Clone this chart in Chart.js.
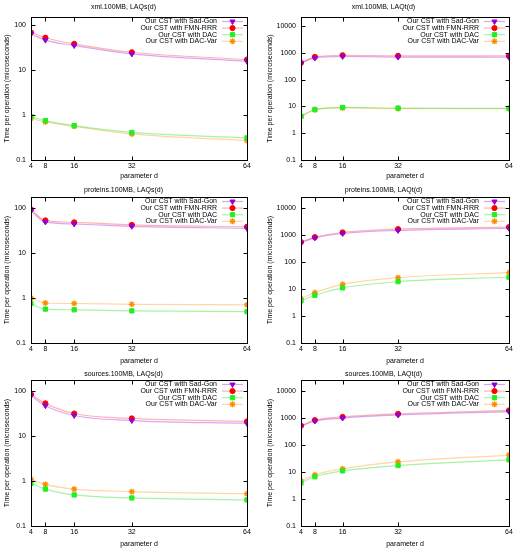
<!DOCTYPE html>
<html>
<head>
<meta charset="utf-8">
<script src="https://cdn.jsdelivr.net/npm/chart.js@4.4.0/dist/chart.umd.min.js"></script>
<style>
  body { margin: 0; background: #fff; }
  #wrap { position: relative; width: 518px; height: 550px; overflow: hidden; }
  canvas { position: absolute; }
</style>
</head>
<body>
<div id="wrap"></div>
<script>
// parameter d on the x axis
const dValues = [4, 8, 16, 32, 64];
const xTicks = [4, 8, 16, 32, 64];
const yTicksS = [0.1, 1, 10, 100];
const yTicksT = [0.1, 1, 10, 100, 1000, 10000];
const seriesNames = ['Our CST with Sad-Gon', 'Our CST with FMN-RRR', 'Our CST with DAC', 'Our CST with DAC-Var'];

// xml.100MB
const xmlLAQsSadGon = [63, 46, 35, 22.7, 15.6];
const xmlLAQsFMN = [68, 52, 38, 24.7, 17];
const xmlLAQsDAC = [0.92, 0.75, 0.58, 0.41, 0.31];
const xmlLAQsDACVar = [0.84, 0.70, 0.56, 0.38, 0.27];

const xmlLAQtSadGon = [410, 650, 740, 700, 690];
const xmlLAQtFMN = [426, 711, 820, 780, 770];
const xmlLAQtDAC = [4.3, 7.7, 9.2, 8.7, 8.5];
const xmlLAQtDACVar = [4.2, 7.5, 8.8, 8.3, 8.2];

// proteins.100MB
const protLAQsSadGon = [88, 50, 45, 40, 36];
const protLAQsFMN = [95, 54, 49, 43, 39];
const protLAQsDAC = [0.76, 0.57, 0.55, 0.52, 0.5];
const protLAQsDACVar = [1.0, 0.78, 0.76, 0.73, 0.71];

const protLAQtSadGon = [510, 770, 1120, 1450, 1750];
const protLAQtFMN = [537, 820, 1220, 1620, 1920];
const protLAQtDAC = [3.6, 5.8, 10.9, 18.6, 27];
const protLAQtDACVar = [4.4, 7.3, 14.8, 26, 40];

// sources.100MB
const srcLAQsSadGon = [78, 47, 28.5, 22, 19];
const srcLAQsFMN = [84, 53, 31.5, 24.5, 21];
const srcLAQsDAC = [0.89, 0.66, 0.49, 0.42, 0.38];
const srcLAQsDACVar = [1.09, 0.84, 0.66, 0.58, 0.52];

const srcLAQtSadGon = [480, 760, 980, 1280, 1700];
const srcLAQtFMN = [510, 820, 1080, 1400, 1870];
const srcLAQtDAC = [3.9, 6.6, 10.9, 17.2, 28];
const srcLAQtDACVar = [4.6, 7.8, 13, 23.5, 42];

const styles = [
  { point: '#9400d3', line: 'rgba(148,0,211,0.35)', shape: 'triangle', rot: 180, r: 3, bw: 1 },
  { point: '#ff0000', line: 'rgba(255,0,0,0.3)', shape: 'circle', rot: 0, r: 2.6, bw: 1 },
  { point: '#22ee22', line: 'rgba(0,220,0,0.35)', shape: 'rect', rot: 0, r: 3, bw: 1 },
  { point: '#ff8c00', line: 'rgba(255,140,0,0.35)', shape: 'star', rot: 0, r: 3, bw: 1.3 }
];

const rows = [
  { top: 0, h: 182, tTop: 2.8, tBot: 5.8, xAxisH: 22, xPad: 1.8 },
  { top: 180, h: 186, tTop: 5.8, tBot: 2.8, xAxisH: 23, xPad: 0.8 },
  { top: 362, h: 188, tTop: 7.8, tBot: 1.8, xAxisH: 24, xPad: 1.8 }
];
const cols = [
  { left: 0, w: 258, yAxisW: 31, padR: 11, yPad: 2.8 },
  { left: 258, w: 260, yAxisW: 43, padR: 9, yPad: 7.8 }
];

const panels = [
  { row: 0, col: 0, title: 'xml.100MB, LAQs(d)', yMax: 150, yTicks: yTicksS, data: [xmlLAQsSadGon, xmlLAQsFMN, xmlLAQsDAC, xmlLAQsDACVar] },
  { row: 0, col: 1, title: 'xml.100MB, LAQt(d)', yMax: 22000, yTicks: yTicksT, data: [xmlLAQtSadGon, xmlLAQtFMN, xmlLAQtDAC, xmlLAQtDACVar] },
  { row: 1, col: 0, title: 'proteins.100MB, LAQs(d)', yMax: 180, yTicks: yTicksS, data: [protLAQsSadGon, protLAQsFMN, protLAQsDAC, protLAQsDACVar] },
  { row: 1, col: 1, title: 'proteins.100MB, LAQt(d)', yMax: 25000, yTicks: yTicksT, data: [protLAQtSadGon, protLAQtFMN, protLAQtDAC, protLAQtDACVar] },
  { row: 2, col: 0, title: 'sources.100MB, LAQs(d)', yMax: 175, yTicks: yTicksS, data: [srcLAQsSadGon, srcLAQsFMN, srcLAQsDAC, srcLAQsDACVar] },
  { row: 2, col: 1, title: 'sources.100MB, LAQt(d)', yMax: 25000, yTicks: yTicksT, data: [srcLAQtSadGon, srcLAQtFMN, srcLAQtDAC, srcLAQtDACVar] }
];

const font = { family: '"Liberation Sans", Arial, sans-serif', size: 7, weight: 'normal' };

function marker(ctx, st, x, y) {
  ctx.save();
  ctx.fillStyle = st.point;
  ctx.strokeStyle = st.point;
  ctx.lineWidth = st.bw;
  if (Chart.helpers && Chart.helpers.drawPoint) {
    Chart.helpers.drawPoint(ctx, { pointStyle: st.shape, radius: st.r, rotation: st.rot, borderWidth: st.bw }, x, y);
  } else {
    ctx.fillRect(x - st.r, y - st.r, st.r * 2, st.r * 2);
  }
  ctx.restore();
}

// gnuplot style box, inward tics and key
const framePlugin = {
  id: 'frame',
  afterDatasetsDraw(chart) {
    const ctx = chart.ctx;
    const a = chart.chartArea;
    const xs = chart.scales.x, ys = chart.scales.y;
    const L = Math.round(a.left) + 0.5, R = Math.round(a.right) + 0.5;
    const T = Math.round(a.top) + 0.5, B = Math.round(a.bottom) + 0.5;
    ctx.save();
    ctx.strokeStyle = '#000';
    ctx.lineWidth = 1;
    ctx.strokeRect(L, T, R - L, B - T);
    ctx.beginPath();
    xTicks.forEach(v => {
      const px = Math.round(xs.getPixelForValue(v)) + 0.5;
      ctx.moveTo(px, B); ctx.lineTo(px, B - 4);
      ctx.moveTo(px, T); ctx.lineTo(px, T + 4);
    });
    chart.options.plugins.frame.yTicks.forEach(v => {
      const py = Math.round(ys.getPixelForValue(v)) + 0.5;
      ctx.moveTo(L, py); ctx.lineTo(L + 4, py);
      ctx.moveTo(R, py); ctx.lineTo(R - 4, py);
    });
    ctx.stroke();

    // key
    ctx.font = '7px "Liberation Sans", Arial, sans-serif';
    ctx.textAlign = 'right';
    ctx.textBaseline = 'middle';
    seriesNames.forEach((name, i) => {
      const y = a.top + 4.5 + i * 6.6;
      const st = styles[i];
      ctx.fillStyle = '#000';
      ctx.fillText(name, a.right - 30, y);
      ctx.strokeStyle = st.line;
      ctx.lineWidth = 1.2;
      ctx.beginPath();
      ctx.moveTo(a.right - 25, y);
      ctx.lineTo(a.right - 4, y);
      ctx.stroke();
      marker(ctx, st, a.right - 14.5, y);
    });
    ctx.restore();
  }
};

const wrap = document.getElementById('wrap');

panels.forEach(p => {
  const r = rows[p.row], c = cols[p.col];
  const cv = document.createElement('canvas');
  cv.width = c.w; cv.height = r.h;
  cv.style.left = c.left + 'px';
  cv.style.top = r.top + 'px';
  cv.style.width = c.w + 'px';
  cv.style.height = r.h + 'px';
  wrap.appendChild(cv);

  const datasets = p.data.map((vals, i) => ({
    label: seriesNames[i],
    data: vals.map((v, k) => ({ x: dValues[k], y: v })),
    borderColor: styles[i].line,
    borderWidth: 1.2,
    pointStyle: styles[i].shape,
    pointRotation: styles[i].rot,
    pointRadius: styles[i].r,
    pointBackgroundColor: styles[i].point,
    pointBorderColor: styles[i].point,
    pointBorderWidth: styles[i].bw,
    cubicInterpolationMode: 'monotone',
    fill: false
  }));

  new Chart(cv, {
    type: 'line',
    data: { datasets: datasets },
    options: {
      responsive: false,
      animation: false,
      devicePixelRatio: 1,
      layout: { padding: { left: 0, right: c.padR, top: 0, bottom: 0 } },
      plugins: {
        legend: { display: false },
        tooltip: { enabled: false },
        title: {
          display: true, text: p.title, color: '#000', font: font,
          padding: { top: r.tTop, bottom: r.tBot }
        },
        frame: { yTicks: p.yTicks }
      },
      scales: {
        x: {
          type: 'linear', min: 4, max: 64,
          afterBuildTicks: s => { s.ticks = xTicks.map(v => ({ value: v })); },
          afterFit: s => { s.height = r.xAxisH; },
          grid: { display: false, drawTicks: false },
          border: { display: false },
          ticks: { color: '#000', font: font, padding: 2, autoSkip: false, maxRotation: 0 },
          title: { display: true, text: 'parameter d', color: '#000', font: font, padding: { top: 0, bottom: r.xPad } }
        },
        y: {
          type: 'logarithmic', min: 0.1, max: p.yMax,
          afterBuildTicks: s => { s.ticks = p.yTicks.map(v => ({ value: v })); },
          afterFit: s => { s.width = c.yAxisW; },
          grid: { display: false, drawTicks: false },
          border: { display: false },
          ticks: { color: '#000', font: font, padding: 5, autoSkip: false, callback: v => String(v) },
          title: { display: true, text: 'Time per operation (microseconds)', color: '#000', font: font, padding: { top: c.yPad, bottom: 0 } }
        }
      }
    },
    plugins: [framePlugin]
  });
});
</script>
</body>
</html>
